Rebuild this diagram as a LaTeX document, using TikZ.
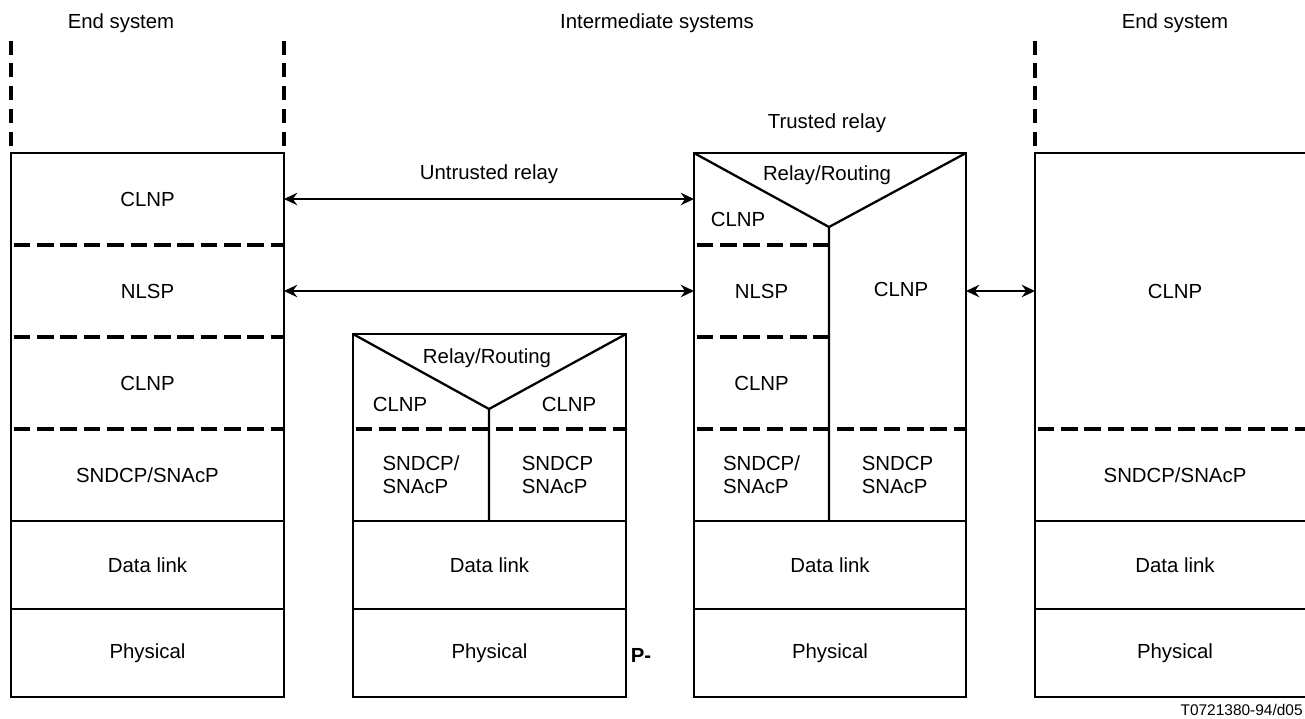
\documentclass[tikz,border=0pt]{standalone}
\usepackage{fontspec}
\setmainfont{Liberation Sans}
\usetikzlibrary{arrows.meta}

\tikzset{
  cell/.style={minimum width=5.46cm, minimum height=1.84cm,
    inner sep=0pt, outer sep=0pt, align=left},
  halfcell/.style={cell, minimum width=2.72cm},
  lowcell/.style={cell, minimum height=1.76cm},
  box/.style={line width=1.3pt},
  sep/.style={line width=2.1pt, dash pattern=on 9.5pt off 3.8pt, dash phase=-1.5pt},
  rail/.style={line width=2.3pt, dash pattern=on 8pt off 5pt},
  link/.style={<->, line width=1.2pt}
}

\begin{document}
\begin{tikzpicture}[>={Stealth[length=7.5pt,width=7pt]},
  x=0.02cm, y=-0.02cm,
  every node/.append style={font=\fontsize{11.6pt}{13.3pt}\selectfont}]

  \useasboundingbox (0,0) rectangle (1305,718);

  % headings
  \node (lend) at (121,23) {End system};
  \node (imsys) at (657,23) {Intermediate systems};
  \node (rend) at (1175,23) {End system};
  \node (trlabel) at (827,123) {Trusted relay};

  % left end system
  \node[cell] (lclnp) at (147.5,199) {CLNP};
  \node[cell] (lnlsp) at (147.5,291) {NLSP};
  \node[cell] (lclnpb) at (147.5,383) {CLNP};
  \node[cell] (lsndcp) at (147.5,475) {SNDCP/SNAcP};
  \node[lowcell] (ldl) at (147.5,565) {Data link};
  \node[lowcell] (lphy) at (147.5,653) {Physical};

  \draw[box] (lclnp.north west) rectangle (lphy.south east);
  \draw[sep] (lnlsp.north west) -- (lnlsp.north east);
  \draw[sep] (lclnpb.north west) -- (lclnpb.north east);
  \draw[sep] (lsndcp.north west) -- (lsndcp.north east);
  \draw[box] (ldl.north west) -- (ldl.north east);
  \draw[box] (lphy.north west) -- (lphy.north east);

  \draw[rail] (lclnp.north west) ++(0,-7) -- ++(0,-106);
  \draw[rail] (lclnp.north east) ++(0,-7) -- ++(0,-106);

  % untrusted relay (middle)
  \coordinate (mnw) at (353,334);
  \coordinate (mne) at (626,334);
  \coordinate (mapex) at (489,409);

  \node (mrr) at (487,358) {Relay/Routing};
  \node (mclnpl) at (400,404) {CLNP};
  \node (mclnpr) at (569,404) {CLNP};
  \node[halfcell] (msnl) at (421,475) {SNDCP/\\SNAcP};
  \node[halfcell, minimum width=2.74cm] (msnr) at (557.5,475) {SNDCP\\SNAcP};
  \node[lowcell] (mdl) at (489.5,565) {Data link};
  \node[lowcell] (mphy) at (489.5,653) {Physical};

  \draw[box] (mnw) rectangle (mphy.south east);
  \draw[box] (mnw) -- (mapex) -- (mne);
  \draw[box] (mapex) -- (msnl.south east);
  \draw[sep] (msnl.north west) -- (msnr.north east);
  \draw[box] (mdl.north west) -- (mdl.north east);
  \draw[box] (mphy.north west) -- (mphy.north east);

  \node[font=\fontsize{11.6pt}{13.3pt}\selectfont\bfseries] (pmark)
    at (641,655) {P-};

  % trusted relay
  \coordinate (tnw) at (694,153);
  \coordinate (tne) at (966,153);
  \coordinate (tapex) at (829,227);

  \node (trr) at (827,175) {Relay/Routing};
  \node (tclnp) at (738,219) {CLNP};
  \node (tclnpr) at (901,289) {CLNP};
  \node[halfcell, minimum width=2.7cm] (tnlsp) at (761.5,291) {NLSP};
  \node[halfcell, minimum width=2.7cm] (tclnpb) at (761.5,383) {CLNP};
  \node[halfcell, minimum width=2.7cm] (tsnl) at (761.5,475) {SNDCP/\\SNAcP};
  \node[halfcell, minimum width=2.74cm] (tsnr) at (897.5,475) {SNDCP\\SNAcP};
  \node[lowcell, minimum width=5.44cm] (tdl) at (830,565) {Data link};
  \node[lowcell, minimum width=5.44cm] (tphy) at (830,653) {Physical};

  \draw[box] (tnw) rectangle (tphy.south east);
  \draw[box] (tnw) -- (tapex) -- (tne);
  \draw[box] (tapex) -- (tsnl.south east);
  \draw[sep] (tnlsp.north west) -- (tnlsp.north east);
  \draw[sep] (tnlsp.south west) -- (tnlsp.south east);
  \draw[sep] (tsnl.north west) -- (tsnr.north east);
  \draw[box] (tdl.north west) -- (tdl.north east);
  \draw[box] (tphy.north west) -- (tphy.north east);

  % right end system
  \node[cell, minimum width=5.6cm, minimum height=5.52cm] (rclnp)
    at (1175,291) {CLNP};
  \node[cell, minimum width=5.6cm] (rsndcp) at (1175,475) {SNDCP/SNAcP};
  \node[lowcell, minimum width=5.6cm] (rdl) at (1175,565) {Data link};
  \node[lowcell, minimum width=5.6cm] (rphy) at (1175,653) {Physical};

  \draw[box] (rclnp.north east) -- (rclnp.north west)
    -- (rphy.south west) -- (rphy.south east);
  \draw[sep] (rsndcp.north west) -- (rsndcp.north east);
  \draw[box] (rdl.north west) -- (rdl.north east);
  \draw[box] (rphy.north west) -- (rphy.north east);

  \draw[rail] (rclnp.north west) ++(0,-7) -- ++(0,-106);

  % relays between the stacks
  \draw[link] (lclnp.east) -- (lclnp.east -| tnlsp.west)
    node[midway, above=5pt] {Untrusted relay};
  \draw[link] (lnlsp.east) -- (tnlsp.west);
  \draw[link] (tnlsp.east -| tsnr.east) -- (rclnp.west);

  \node[anchor=east, inner sep=0pt,
    font=\fontsize{8.8pt}{10pt}\selectfont] (figid)
    at (1303,710) {T0721380-94/d05};

\end{tikzpicture}
\end{document}
